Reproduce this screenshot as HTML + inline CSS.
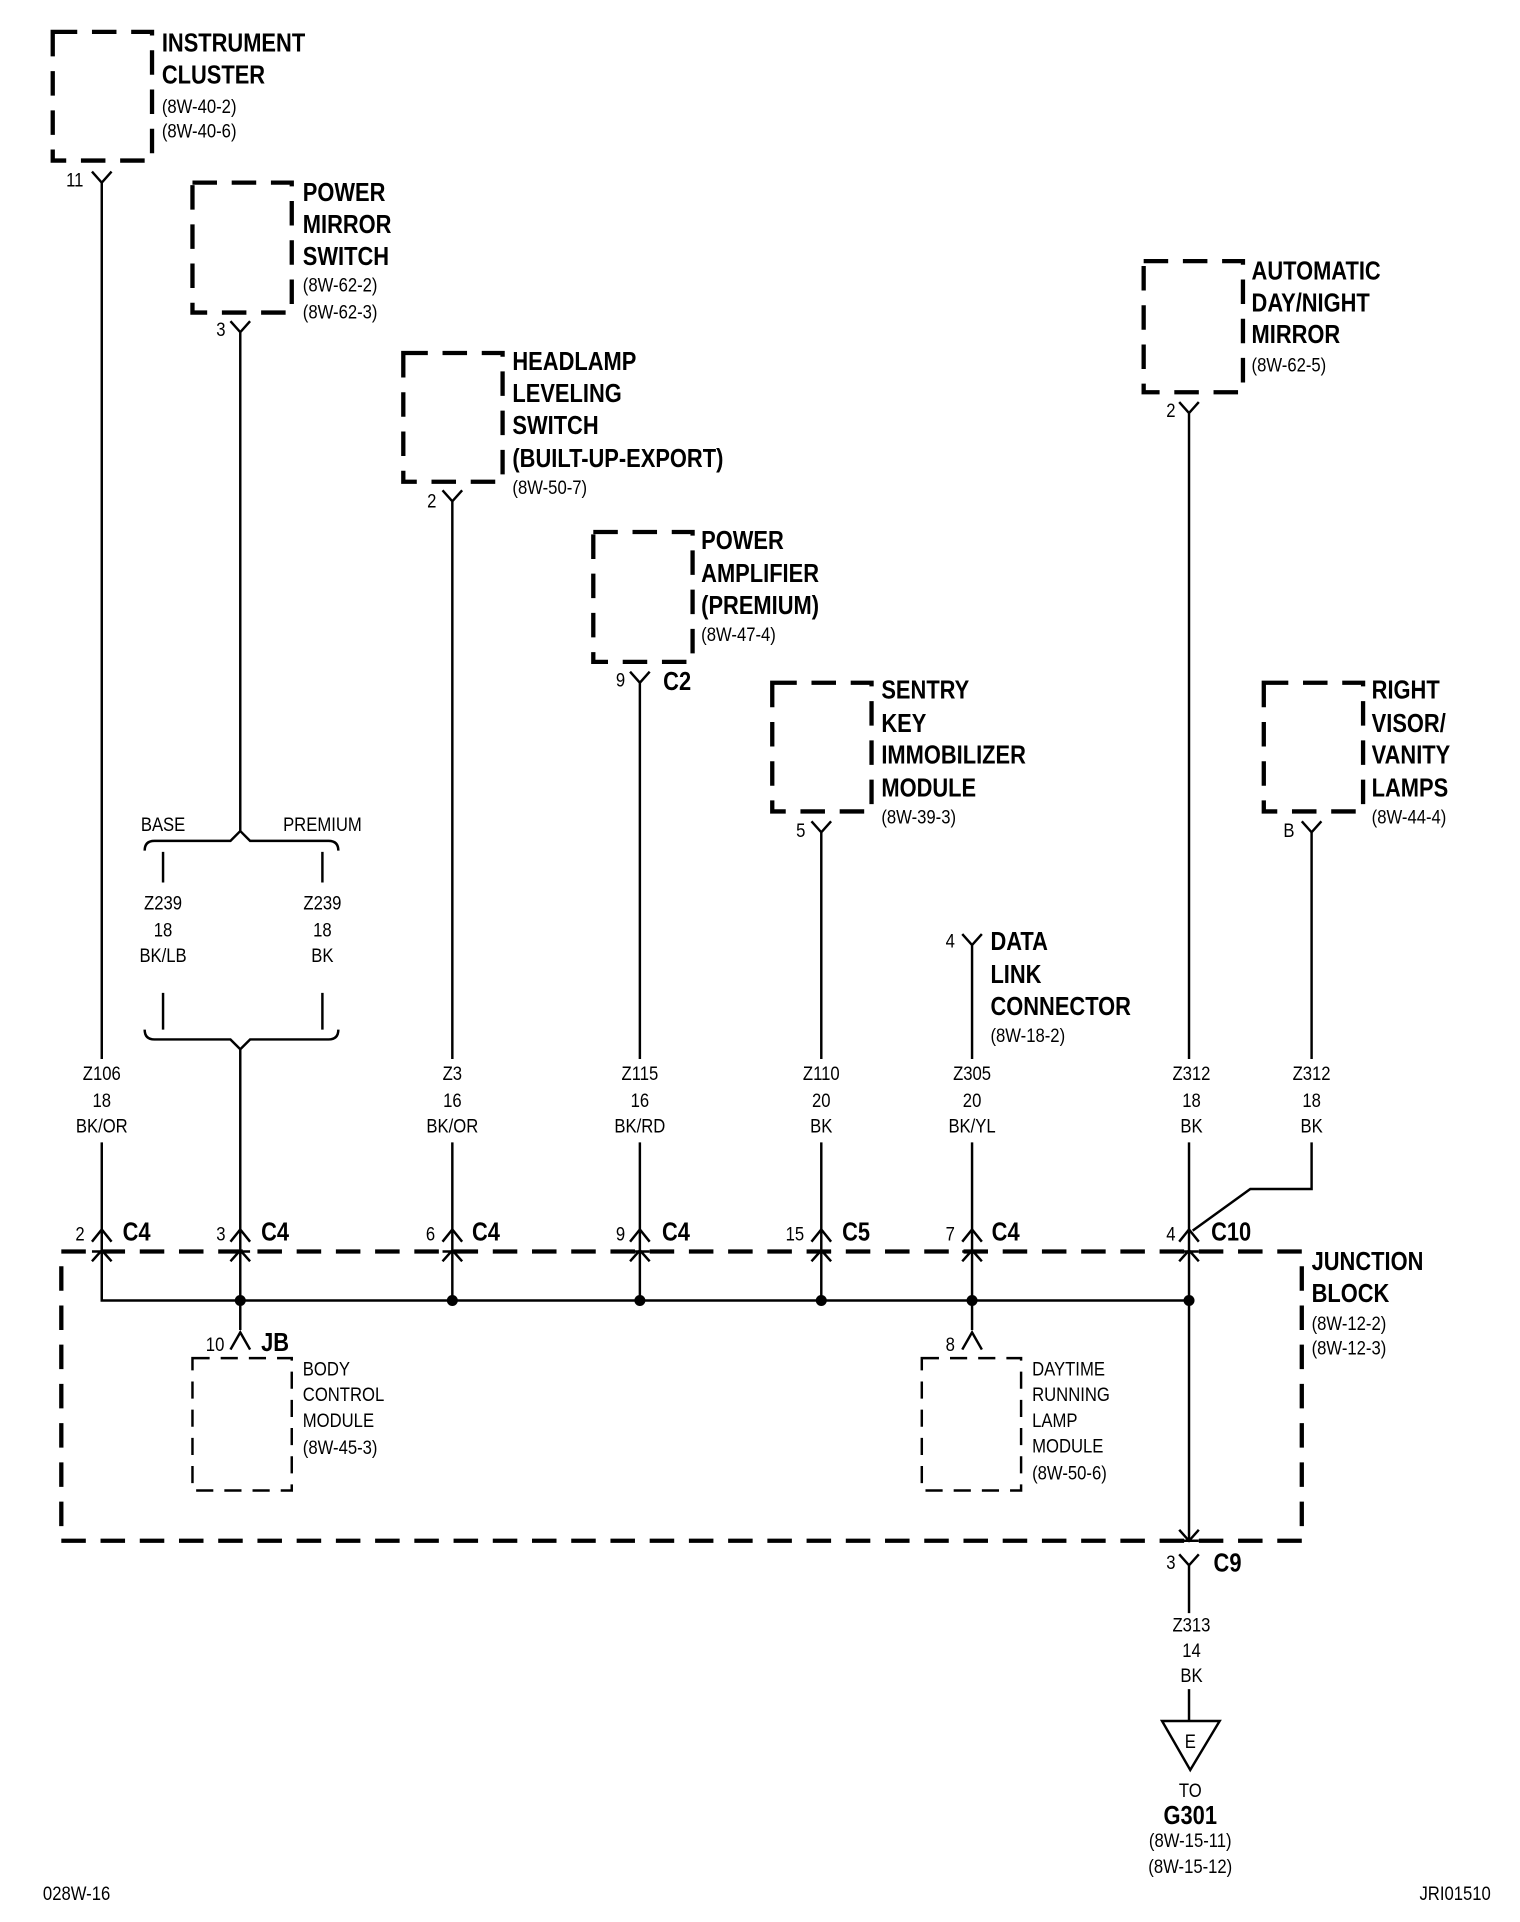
<!DOCTYPE html>
<html><head><meta charset="utf-8"><style>
html,body{margin:0;padding:0;background:#fff}
svg{display:block}
text{font-family:"Liberation Sans",sans-serif;fill:#000}
.b{font-weight:bold;font-size:21px}
.r{font-size:16px}
.w{font-size:16px;text-anchor:middle}
.p{font-size:16px;text-anchor:end}
.box{fill:none;stroke:#000;stroke-width:3.5;stroke-dasharray:20 12}
.tb{fill:none;stroke:#000;stroke-width:2;stroke-dasharray:14 9}
.l{fill:none;stroke:#000;stroke-width:2}
</style></head><body>
<svg width="1520" height="1922" viewBox="0 0 1240 1568" xmlns="http://www.w3.org/2000/svg">
<rect class="box" x="43" y="26" width="81" height="105"/>
<rect class="box" x="157" y="149" width="81" height="106"/>
<rect class="box" x="329" y="288" width="81" height="105"/>
<rect class="box" x="484" y="434" width="81" height="106"/>
<rect class="box" x="630" y="557" width="81" height="105"/>
<rect class="box" x="933" y="213" width="81" height="107"/>
<rect class="box" x="1031" y="557" width="81" height="105"/>
<rect class="box" x="50" y="1021" width="1012" height="236"/>
<rect class="tb" x="157" y="1108" width="81" height="108"/>
<rect class="tb" x="752" y="1108" width="81" height="108"/>

<g class="l">
<path d="M75 140 L83 149 L91 140 M83 149 V864 M83 932 V1061 H970"/>
<path d="M188 262 L196 271 L204 262 M196 271 V678"/>
<path d="M361 400 L369 409 L377 400 M369 409 V864 M369 932 V1005"/>
<path d="M514 548 L522 557 L530 548 M522 557 V864 M522 932 V1005"/>
<path d="M662 670 L670 679 L678 670 M670 679 V864 M670 932 V1005"/>
<path d="M785 762 L793 771 L801 762 M793 771 V864 M793 932 V1005"/>
<path d="M962 328 L970 337 L978 328 M970 337 V864 M970 932 V1005"/>
<path d="M1062 670 L1070 679 L1078 670 M1070 679 V864 M1070 932 V970 H1020 L973 1004"/>
<path d="M118 694 Q118 686 126 686 H188 L196 678 L204 686 H268 Q276 686 276 694"/>
<path d="M133 695 V720 M263 695 V720 M133 810 V840 M263 810 V840"/>
<path d="M118 840 Q118 848 126 848 H188 L196 856 L204 848 H268 Q276 848 276 840"/>
<path d="M196 856 V1005"/>
<path d="M75 1013 L83 1003 L91 1013 M75 1029 L83 1020 L91 1029 M75 1021 H91 M83 1003 V1061"/>
<path d="M188 1013 L196 1003 L204 1013 M188 1029 L196 1020 L204 1029 M188 1021 H204 M196 1003 V1085"/>
<path d="M361 1013 L369 1003 L377 1013 M361 1029 L369 1020 L377 1029 M361 1021 H377 M369 1003 V1061"/>
<path d="M514 1013 L522 1003 L530 1013 M514 1029 L522 1020 L530 1029 M514 1021 H530 M522 1003 V1061"/>
<path d="M662 1013 L670 1003 L678 1013 M662 1029 L670 1020 L678 1029 M662 1021 H678 M670 1003 V1061"/>
<path d="M785 1013 L793 1003 L801 1013 M785 1029 L793 1020 L801 1029 M785 1021 H801 M793 1003 V1085"/>
<path d="M962 1013 L970 1003 L978 1013 M962 1029 L970 1020 L978 1029 M962 1021 H978 M970 1003 V1257"/>
<path d="M188 1101 L196 1087 L204 1101"/>
<path d="M785 1101 L793 1087 L801 1101"/>
<path d="M962 1248 L970 1257 L978 1248 M962 1257 H978 M962 1268 L970 1277 L978 1268 M970 1277 V1316 M970 1378 V1404"/>
<path d="M948 1404 H995 L971 1444 Z"/>
</g>
<g>
<circle cx="196" cy="1061" r="4.5"/><circle cx="369" cy="1061" r="4.5"/><circle cx="522" cy="1061" r="4.5"/>
<circle cx="670" cy="1061" r="4.5"/><circle cx="793" cy="1061" r="4.5"/><circle cx="970" cy="1061" r="4.5"/>
</g>

<g class="b">
<text transform="matrix(0.85 0 0 1 132 42)">INSTRUMENT</text>
<text transform="matrix(0.85 0 0 1 132 68)">CLUSTER</text>
<text transform="matrix(0.85 0 0 1 247 164)">POWER</text>
<text transform="matrix(0.85 0 0 1 247 190)">MIRROR</text>
<text transform="matrix(0.85 0 0 1 247 216)">SWITCH</text>
<text transform="matrix(0.85 0 0 1 418 302)">HEADLAMP</text>
<text transform="matrix(0.85 0 0 1 418 328)">LEVELING</text>
<text transform="matrix(0.85 0 0 1 418 354)">SWITCH</text>
<text transform="matrix(0.85 0 0 1 418 381)">(BUILT-UP-EXPORT)</text>
<text transform="matrix(0.85 0 0 1 572 448)">POWER</text>
<text transform="matrix(0.85 0 0 1 572 475)">AMPLIFIER</text>
<text transform="matrix(0.85 0 0 1 572 501)">(PREMIUM)</text>
<text transform="matrix(0.85 0 0 1 719 570)">SENTRY</text>
<text transform="matrix(0.85 0 0 1 719 597)">KEY</text>
<text transform="matrix(0.85 0 0 1 719 623)">IMMOBILIZER</text>
<text transform="matrix(0.85 0 0 1 719 650)">MODULE</text>
<text transform="matrix(0.85 0 0 1 808 775)">DATA</text>
<text transform="matrix(0.85 0 0 1 808 802)">LINK</text>
<text transform="matrix(0.85 0 0 1 808 828)">CONNECTOR</text>
<text transform="matrix(0.85 0 0 1 1021 228)">AUTOMATIC</text>
<text transform="matrix(0.85 0 0 1 1021 254)">DAY/NIGHT</text>
<text transform="matrix(0.85 0 0 1 1021 280)">MIRROR</text>
<text transform="matrix(0.85 0 0 1 1119 570)">RIGHT</text>
<text transform="matrix(0.85 0 0 1 1119 597)">VISOR/</text>
<text transform="matrix(0.85 0 0 1 1119 623)">VANITY</text>
<text transform="matrix(0.85 0 0 1 1119 650)">LAMPS</text>
<text transform="matrix(0.85 0 0 1 1070 1036)">JUNCTION</text>
<text transform="matrix(0.85 0 0 1 1070 1062)">BLOCK</text>
<text transform="matrix(0.85 0 0 1 541 563)">C2</text>
<text transform="matrix(0.85 0 0 1 100 1012)">C4</text>
<text transform="matrix(0.85 0 0 1 213 1012)">C4</text>
<text transform="matrix(0.85 0 0 1 385 1012)">C4</text>
<text transform="matrix(0.85 0 0 1 540 1012)">C4</text>
<text transform="matrix(0.85 0 0 1 687 1012)">C5</text>
<text transform="matrix(0.85 0 0 1 809 1012)">C4</text>
<text transform="matrix(0.85 0 0 1 988 1012)">C10</text>
<text transform="matrix(0.85 0 0 1 213 1102)">JB</text>
<text transform="matrix(0.85 0 0 1 990 1282)">C9</text>
<text transform="matrix(0.85 0 0 1 971 1488)" text-anchor="middle">G301</text>
</g>

<g class="r">
<text transform="matrix(0.85 0 0 1 132 92)">(8W-40-2)</text>
<text transform="matrix(0.85 0 0 1 132 112)">(8W-40-6)</text>
<text transform="matrix(0.85 0 0 1 247 238)">(8W-62-2)</text>
<text transform="matrix(0.85 0 0 1 247 260)">(8W-62-3)</text>
<text transform="matrix(0.85 0 0 1 418 403)">(8W-50-7)</text>
<text transform="matrix(0.85 0 0 1 572 523)">(8W-47-4)</text>
<text transform="matrix(0.85 0 0 1 719 672)">(8W-39-3)</text>
<text transform="matrix(0.85 0 0 1 808 850)">(8W-18-2)</text>
<text transform="matrix(0.85 0 0 1 1021 303)">(8W-62-5)</text>
<text transform="matrix(0.85 0 0 1 1119 672)">(8W-44-4)</text>
<text transform="matrix(0.85 0 0 1 1070 1085)">(8W-12-2)</text>
<text transform="matrix(0.85 0 0 1 1070 1105)">(8W-12-3)</text>
<text transform="matrix(0.85 0 0 1 247 1122)">BODY</text>
<text transform="matrix(0.85 0 0 1 247 1143)">CONTROL</text>
<text transform="matrix(0.85 0 0 1 247 1164)">MODULE</text>
<text transform="matrix(0.85 0 0 1 247 1186)">(8W-45-3)</text>
<text transform="matrix(0.85 0 0 1 842 1122)">DAYTIME</text>
<text transform="matrix(0.85 0 0 1 842 1143)">RUNNING</text>
<text transform="matrix(0.85 0 0 1 842 1164)">LAMP</text>
<text transform="matrix(0.85 0 0 1 842 1185)">MODULE</text>
<text transform="matrix(0.85 0 0 1 842 1207)">(8W-50-6)</text>
<text transform="matrix(0.85 0 0 1 35 1550)">028W-16</text>
<text transform="matrix(0.85 0 0 1 1158 1550)">JRI01510</text>
</g>

<g class="p">
<text transform="matrix(0.85 0 0 1 68 152)">11</text>
<text transform="matrix(0.85 0 0 1 184 274)">3</text>
<text transform="matrix(0.85 0 0 1 356 414)">2</text>
<text transform="matrix(0.85 0 0 1 510 560)">9</text>
<text transform="matrix(0.85 0 0 1 657 683)">5</text>
<text transform="matrix(0.85 0 0 1 779 773)">4</text>
<text transform="matrix(0.85 0 0 1 959 340)">2</text>
<text transform="matrix(0.85 0 0 1 1056 683)">B</text>
<text transform="matrix(0.85 0 0 1 69 1012)">2</text>
<text transform="matrix(0.85 0 0 1 184 1012)">3</text>
<text transform="matrix(0.85 0 0 1 355 1012)">6</text>
<text transform="matrix(0.85 0 0 1 510 1012)">9</text>
<text transform="matrix(0.85 0 0 1 656 1012)">15</text>
<text transform="matrix(0.85 0 0 1 779 1012)">7</text>
<text transform="matrix(0.85 0 0 1 959 1012)">4</text>
<text transform="matrix(0.85 0 0 1 183 1102)">10</text>
<text transform="matrix(0.85 0 0 1 779 1102)">8</text>
<text transform="matrix(0.85 0 0 1 959 1280)">3</text>
</g>

<g class="w">
<text transform="matrix(0.85 0 0 1 133 678)">BASE</text>
<text transform="matrix(0.85 0 0 1 263 678)">PREMIUM</text>
<text transform="matrix(0.85 0 0 1 133 742)">Z239</text>
<text transform="matrix(0.85 0 0 1 133 764)">18</text>
<text transform="matrix(0.85 0 0 1 133 785)">BK/LB</text>
<text transform="matrix(0.85 0 0 1 263 742)">Z239</text>
<text transform="matrix(0.85 0 0 1 263 764)">18</text>
<text transform="matrix(0.85 0 0 1 263 785)">BK</text>
<text transform="matrix(0.85 0 0 1 83 881)">Z106</text>
<text transform="matrix(0.85 0 0 1 83 903)">18</text>
<text transform="matrix(0.85 0 0 1 83 924)">BK/OR</text>
<text transform="matrix(0.85 0 0 1 369 881)">Z3</text>
<text transform="matrix(0.85 0 0 1 369 903)">16</text>
<text transform="matrix(0.85 0 0 1 369 924)">BK/OR</text>
<text transform="matrix(0.85 0 0 1 522 881)">Z115</text>
<text transform="matrix(0.85 0 0 1 522 903)">16</text>
<text transform="matrix(0.85 0 0 1 522 924)">BK/RD</text>
<text transform="matrix(0.85 0 0 1 670 881)">Z110</text>
<text transform="matrix(0.85 0 0 1 670 903)">20</text>
<text transform="matrix(0.85 0 0 1 670 924)">BK</text>
<text transform="matrix(0.85 0 0 1 793 881)">Z305</text>
<text transform="matrix(0.85 0 0 1 793 903)">20</text>
<text transform="matrix(0.85 0 0 1 793 924)">BK/YL</text>
<text transform="matrix(0.85 0 0 1 972 881)">Z312</text>
<text transform="matrix(0.85 0 0 1 972 903)">18</text>
<text transform="matrix(0.85 0 0 1 972 924)">BK</text>
<text transform="matrix(0.85 0 0 1 1070 881)">Z312</text>
<text transform="matrix(0.85 0 0 1 1070 903)">18</text>
<text transform="matrix(0.85 0 0 1 1070 924)">BK</text>
<text transform="matrix(0.85 0 0 1 972 1331)">Z313</text>
<text transform="matrix(0.85 0 0 1 972 1352)">14</text>
<text transform="matrix(0.85 0 0 1 972 1372)">BK</text>
<text transform="matrix(0.85 0 0 1 971 1426)">E</text>
<text transform="matrix(0.85 0 0 1 971 1466)">TO</text>
<text transform="matrix(0.85 0 0 1 971 1507)">(8W-15-11)</text>
<text transform="matrix(0.85 0 0 1 971 1528)">(8W-15-12)</text>
</g>
</svg>
</body></html>
